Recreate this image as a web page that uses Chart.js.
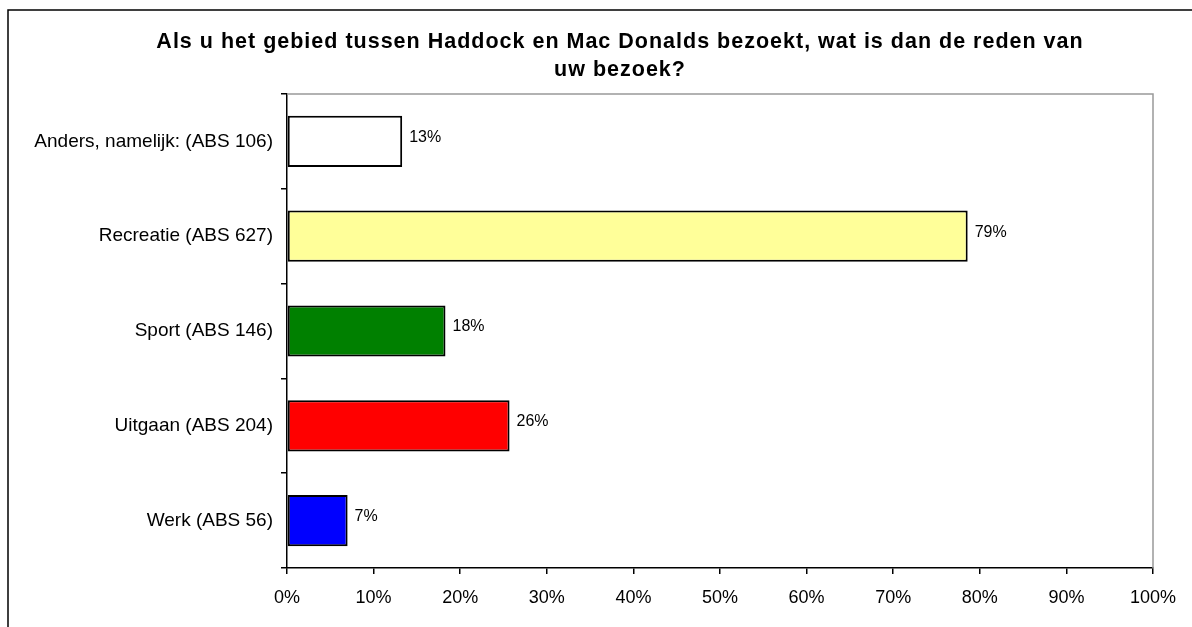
<!DOCTYPE html>
<html>
<head>
<meta charset="utf-8">
<script src="https://cdn.jsdelivr.net/npm/chart.js@4"></script>
<style>
  html, body { margin: 0; padding: 0; background: #fff; }
  #wrap { width: 1192px; height: 627px; }
</style>
</head>
<body>
<div id="wrap"><canvas id="grafiek"></canvas></div>
<script>
// gegevens
const categorieen = [
  'Anders, namelijk: (ABS 106)',
  'Recreatie (ABS 627)',
  'Sport (ABS 146)',
  'Uitgaan (ABS 204)',
  'Werk (ABS 56)'
];
const percentages = [13.3, 78.6, 18.3, 25.7, 7.0];
const kleuren = ['#FFFFFF', '#FFFF99', '#008000', '#FF0000', '#0000FF'];
const titelRegels = [
  'Als u het gebied tussen Haddock en Mac Donalds bezoekt, wat is dan de reden van',
  'uw bezoek?'
];

const FONT = '"Liberation Sans", Arial, sans-serif';

// kader, titel en rand van het plotgebied
const kaderPlugin = {
  id: 'kader',
  beforeDraw(chart) {
    const ctx = chart.ctx;
    ctx.save();
    ctx.strokeStyle = '#000';
    ctx.lineWidth = 1.5;
    ctx.beginPath();
    ctx.moveTo(8, chart.height);
    ctx.lineTo(8, 10);
    ctx.lineTo(chart.width, 10);
    ctx.stroke();

    ctx.fillStyle = '#000';
    ctx.font = 'bold 21.5px ' + FONT;
    ctx.letterSpacing = '1px';
    ctx.textAlign = 'center';
    ctx.textBaseline = 'middle';
    titelRegels.forEach((t, i) => ctx.fillText(t, 620, 42 + i * 28));
    ctx.restore();
  },
  afterDatasetsDraw(chart) {
    const ctx = chart.ctx;
    const a = chart.chartArea;
    ctx.save();
    ctx.strokeStyle = '#999';
    ctx.lineWidth = 1.5;
    ctx.beginPath();
    ctx.moveTo(a.left, a.top);
    ctx.lineTo(a.right, a.top);
    ctx.lineTo(a.right, a.bottom);
    ctx.stroke();

    // waardelabels naast de staven
    ctx.fillStyle = '#000';
    ctx.font = '16px ' + FONT;
    ctx.textAlign = 'left';
    ctx.textBaseline = 'middle';
    chart.getDatasetMeta(0).data.forEach((bar, i) => {
      ctx.fillText(Math.round(percentages[i]) + '%', bar.x + 7, bar.y - 4);
    });
    ctx.restore();
  }
};

new Chart(document.getElementById('grafiek'), {
  type: 'bar',
  data: {
    labels: categorieen,
    datasets: [{
      data: percentages,
      backgroundColor: kleuren,
      borderColor: '#000',
      borderWidth: 2,
      borderSkipped: false,
      barPercentage: 0.54,
      categoryPercentage: 1
    }]
  },
  options: {
    indexAxis: 'y',
    responsive: true,
    maintainAspectRatio: false,
    animation: false,
    layout: { padding: { top: 94, right: 39, left: 0, bottom: 0 } },
    plugins: {
      legend: { display: false },
      title: { display: false },
      tooltip: { enabled: false }
    },
    scales: {
      x: {
        min: 0,
        max: 100,
        ticks: {
          stepSize: 10,
          callback: v => v + '%',
          color: '#000',
          font: { family: FONT, size: 18 },
          padding: 13,
          maxRotation: 0
        },
        grid: { drawOnChartArea: false, tickLength: 6, color: '#000', lineWidth: 1.5 },
        border: { color: '#000', width: 1.5 },
        afterFit(scale) { scale.height = 59; }
      },
      y: {
        ticks: {
          color: '#000',
          font: { family: FONT, size: 19 },
          padding: 8
        },
        grid: { drawOnChartArea: false, tickLength: 6, color: '#000', lineWidth: 1.5, offset: true },
        border: { color: '#000', width: 1.5 },
        afterFit(scale) { scale.width = 287; }
      }
    }
  },
  plugins: [kaderPlugin]
});
</script>
</body>
</html>
